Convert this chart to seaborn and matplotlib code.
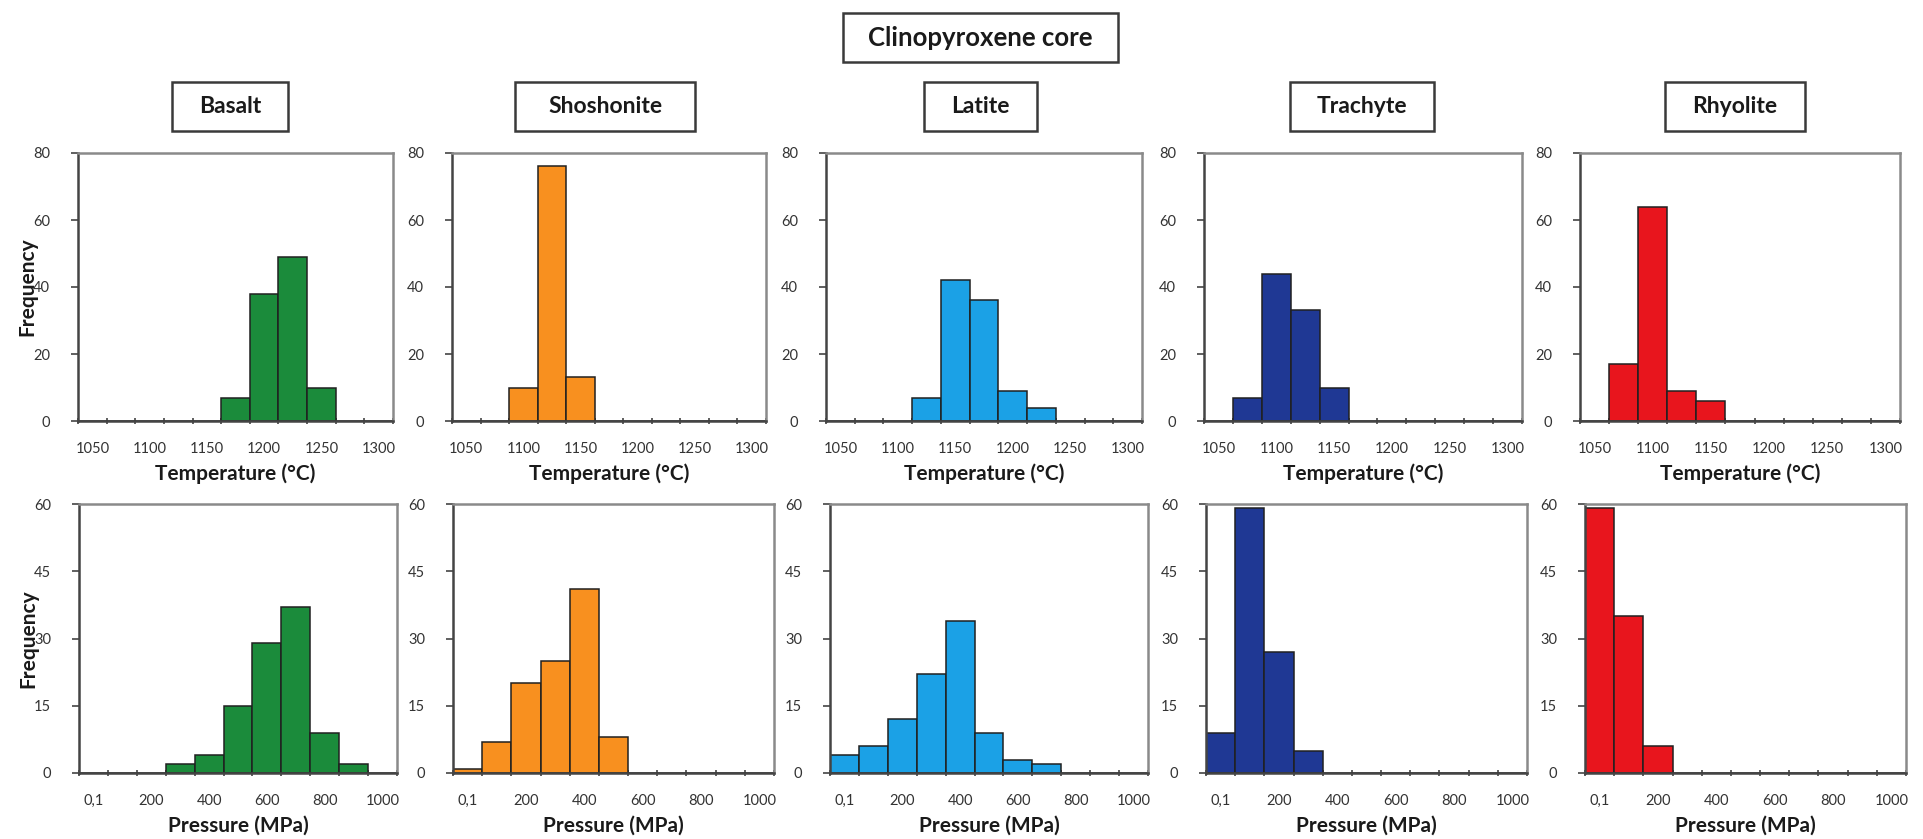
import numpy as np
import pandas as pd
import matplotlib
matplotlib.use("Agg")
import matplotlib.pyplot as plt
from matplotlib.patches import Rectangle
import seaborn as sns

sns.set_style("white")
plt.rcParams["font.family"] = ["Lato", "DejaVu Sans"]

# ---- data: frequency per bin --------------------------------------------
rock_types = ["Basalt", "Shoshonite", "Latite", "Trachyte", "Rhyolite"]
rock_colors = ["#1B8B3B", "#F8901F", "#1BA1E6", "#1F3894", "#E8151D"]

temp_bins = [1050, 1075, 1100, 1125, 1150, 1175, 1200, 1225, 1250, 1275, 1300]
temp_labels = ["1050", "1100", "1150", "1200", "1250", "1300"]

basalt_T = [0, 0, 0, 0, 0, 7, 38, 49, 10, 0, 0]
shoshonite_T = [0, 0, 10, 76, 13, 0, 0, 0, 0, 0, 0]
latite_T = [0, 0, 0, 7, 42, 36, 9, 4, 0, 0, 0]
trachyte_T = [0, 7, 44, 33, 10, 0, 0, 0, 0, 0, 0]
rhyolite_T = [0, 17, 64, 9, 6, 0, 0, 0, 0, 0, 0]

press_bins = [0.1, 100, 200, 300, 400, 500, 600, 700, 800, 900, 1000]
press_labels = ["0,1", "200", "400", "600", "800", "1000"]

basalt_P = [0, 0, 0, 2, 4, 15, 29, 37, 9, 2, 0]
shoshonite_P = [1, 7, 20, 25, 41, 8, 0, 0, 0, 0, 0]
latite_P = [4, 6, 12, 22, 34, 9, 3, 2, 0, 0, 0]
trachyte_P = [9, 59, 27, 5, 0, 0, 0, 0, 0, 0, 0]
rhyolite_P = [59, 35, 6, 0, 0, 0, 0, 0, 0, 0, 0]

temp_counts = [basalt_T, shoshonite_T, latite_T, trachyte_T, rhyolite_T]
press_counts = [basalt_P, shoshonite_P, latite_P, trachyte_P, rhyolite_P]

# ---- figure layout (pixels) ---------------------------------------------
W, H = 1923, 839
fig = plt.figure(figsize=(W / 100, H / 100), dpi=100)
fig.patch.set_facecolor("white")


def px_axes(x0, y0, x1, y1):
    return fig.add_axes([x0 / W, 1 - y1 / H, (x1 - x0) / W, (y1 - y0) / H])


def px_box(x0, y0, x1, y1, text, size):
    fig.patches.append(Rectangle((x0 / W, 1 - y1 / H), (x1 - x0) / W, (y1 - y0) / H,
                                 transform=fig.transFigure, facecolor="white",
                                 edgecolor="#3a3a3a", linewidth=1.8))
    fig.text((x0 + x1) / 2 / W, 1 - (y0 + y1) / 2 / H, text, ha="center",
             va="center", fontsize=size, fontweight="bold", color="#1a1a1a")


top_x = [(78, 393), (452, 766), (826, 1142), (1204, 1522), (1580, 1900)]
bot_x = [(79, 397), (453, 774), (830, 1148), (1206, 1527), (1585, 1906)]
top_y = (153, 421)
bot_y = (504, 773)

title_boxes = [(172, 288), (515, 695), (924, 1037), (1290, 1434), (1665, 1805)]

px_box(843, 13, 1118, 62, "Clinopyroxene core", 18.5)
for (bx0, bx1), name in zip(title_boxes, rock_types):
    px_box(bx0, 82, bx1, 131, name, 16.5)


def style_axes(ax, centers, labels, step, ymax, yticks, xlabel, ylabel,
               height_px, width_px):
    half = step / 2
    edges = np.concatenate([[centers[0] - half], np.asarray(centers) + half])
    ax.set_xlim(edges[0], edges[-1])
    ax.set_ylim(0, ymax)
    ax.set_xticks(edges, minor=True)
    ax.set_xticks(centers[::2])
    ax.set_xticklabels(labels)
    ax.set_yticks(yticks)
    ax.tick_params(axis="x", which="major", length=0, pad=15, labelsize=10.5,
                   colors="#333333")
    ax.tick_params(axis="x", which="minor", length=5, width=1.2, direction="inout",
                   color="#444444", bottom=True)
    ax.tick_params(axis="y", which="major", length=5, width=1.2, direction="out",
                   color="#444444", pad=15, labelsize=10.5, labelcolor="#333333",
                   left=True)
    for side, sp in ax.spines.items():
        sp.set_visible(True)
        sp.set_linewidth(1.8)
        sp.set_color("#8a8a8a" if side in ("top", "right") else "#444444")
    ax.set_xlabel(xlabel, fontsize=15, fontweight="bold", color="#1a1a1a",
                  va="center")
    ax.xaxis.set_label_coords(0.5, -53 / height_px)
    if ylabel:
        ax.set_ylabel(ylabel, fontsize=15, fontweight="bold", color="#1a1a1a",
                      va="center")
        ax.yaxis.set_label_coords(-51 / width_px, 0.5)
    else:
        ax.set_ylabel("")
    ax.grid(False)


temp_pos = np.array(temp_bins, dtype=float)
press_pos = np.array([0, 100, 200, 300, 400, 500, 600, 700, 800, 900, 1000], dtype=float)


def draw_hist(ax, positions, counts, step, color):
    df = pd.DataFrame({"value": positions, "count": counts})
    edges = [float(p - step / 2) for p in positions] + [float(positions[-1] + step / 2)]
    sns.histplot(data=df, x="value", weights="count", bins=edges, ax=ax,
                 color=color, alpha=1, edgecolor="#202020", linewidth=1.1)


for i in range(5):
    # temperature histogram
    x0, x1 = top_x[i]
    ax = px_axes(x0, top_y[0], x1, top_y[1])
    draw_hist(ax, temp_pos, temp_counts[i], 25, rock_colors[i])
    style_axes(ax, temp_pos, temp_labels, 25, 80, [0, 20, 40, 60, 80],
               "Temperature (°C)", "Frequency" if i == 0 else None,
               top_y[1] - top_y[0], x1 - x0)

    # pressure histogram
    x0, x1 = bot_x[i]
    ax = px_axes(x0, bot_y[0], x1, bot_y[1])
    draw_hist(ax, press_pos, press_counts[i], 100, rock_colors[i])
    style_axes(ax, press_pos, press_labels, 100, 60, [0, 15, 30, 45, 60],
               "Pressure (MPa)", "Frequency" if i == 0 else None,
               bot_y[1] - bot_y[0], x1 - x0)

fig.savefig("out.png", dpi=100, facecolor="white")
